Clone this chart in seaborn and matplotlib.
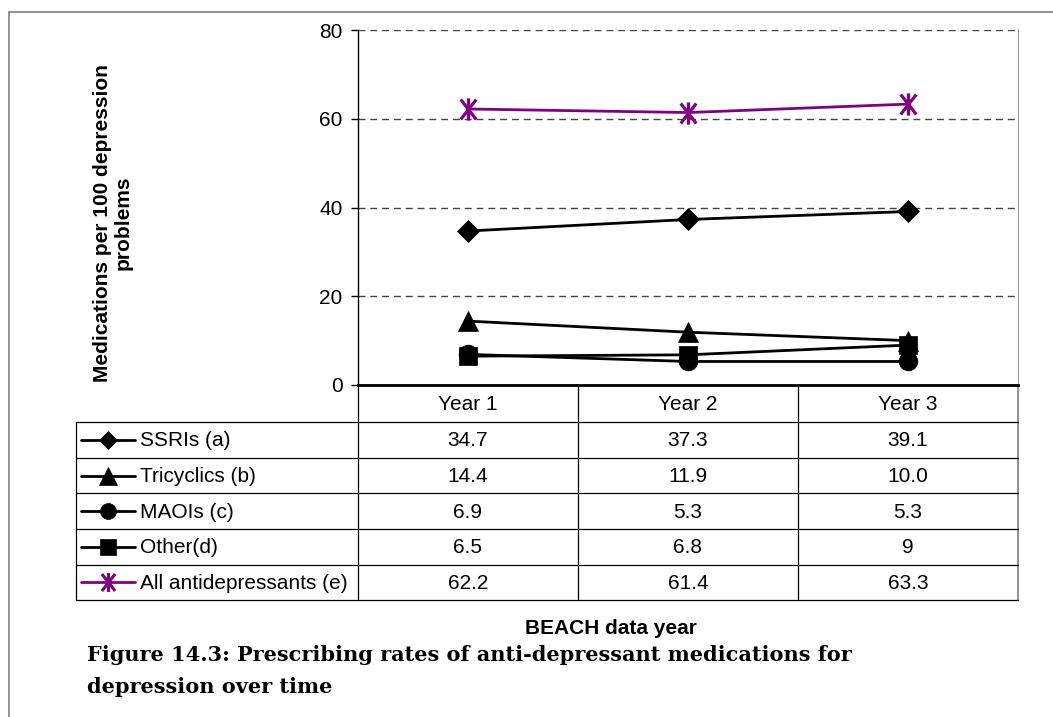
import numpy as np
import pandas as pd
import matplotlib
matplotlib.use("Agg")
import matplotlib.pyplot as plt
from matplotlib.lines import Line2D
from matplotlib.path import Path
import seaborn as sns

# data
years = ["Year 1", "Year 2", "Year 3"]
series_names = ["SSRIs (a)", "Tricyclics (b)", "MAOIs (c)", "Other(d)", "All antidepressants (e)"]
ssris = [34.7, 37.3, 39.1]
tricyclics = [14.4, 11.9, 10.0]
maois = [6.9, 5.3, 5.3]
other = [6.5, 6.8, 9]
all_ad = [62.2, 61.4, 63.3]
table_text = [["34.7", "37.3", "39.1"],
              ["14.4", "11.9", "10.0"],
              ["6.9", "5.3", "5.3"],
              ["6.5", "6.8", "9"],
              ["62.2", "61.4", "63.3"]]
yticks = [0, 20, 40, 60, 80]

values = [ssris, tricyclics, maois, other, all_ad]
df = pd.DataFrame({
    "year": years * len(series_names),
    "series": np.repeat(series_names, len(years)),
    "value": np.concatenate(values),
})

# excel-style star: vertical bar plus an X
star = Path([(0, -1), (0, 1), (-0.7, -0.9), (0.7, 0.9), (-0.7, 0.9), (0.7, -0.9)],
            [Path.MOVETO, Path.LINETO, Path.MOVETO, Path.LINETO, Path.MOVETO, Path.LINETO])

# styles per series
styles = {
    "SSRIs (a)": dict(marker="D", ms=11, color="black"),
    "Tricyclics (b)": dict(marker="^", ms=14.5, color="black"),
    "MAOIs (c)": dict(marker="o", ms=13.5, color="black"),
    "Other(d)": dict(marker="s", ms=13.5, color="black"),
    "All antidepressants (e)": dict(marker=star, ms=16, color="#800080"),
}

sns.set_style("white")
plt.rcParams["font.family"] = ["Liberation Sans", "DejaVu Sans"]
plt.rcParams["text.color"] = "black"
plt.rcParams["ytick.color"] = "black"
plt.rcParams["xtick.color"] = "black"

W, H = 1053, 717
fig = plt.figure(figsize=(W / 100, H / 100), dpi=100)

# main plot area (pixel layout from the reference)
px_l, px_r, px_t, px_b = 358, 1018, 30, 385
ax = fig.add_axes([px_l / W, 1 - px_b / H, (px_r - px_l) / W, (px_b - px_t) / H])

for name in series_names:
    st = styles[name]
    sub = df[df["series"] == name]
    sns.lineplot(data=sub, x="year", y="value", ax=ax, color=st["color"],
                 marker=st["marker"], ms=st["ms"], mec=st["color"], mfc=st["color"],
                 mew=2.3 if name.startswith("All") else 0.5, lw=2, legend=False, zorder=3)

ax.set_xlim(-0.5, 2.5)
ax.set_ylim(0, 80)
ax.set_yticks(yticks)
ax.set_xticks([])
ax.set_xlabel("")
ax.set_ylabel("")
ax.tick_params(axis="y", labelsize=15, length=5, width=1, pad=6, left=True,
               color="black", labelcolor="black")
ax.grid(axis="y", linestyle=(0, (5, 3.5)), color="#444444", lw=1)
for s in ["top", "right"]:
    ax.spines[s].set_visible(False)
ax.spines["left"].set_color("black")
ax.spines["left"].set_linewidth(1)
ax.spines["bottom"].set_color("black")
ax.spines["bottom"].set_linewidth(2)
ax.spines["bottom"].set_zorder(5)

# overlay in pixel coordinates for table, frame and captions
ov = fig.add_axes([0, 0, 1, 1], zorder=-1)
ov.set_xlim(0, W)
ov.set_ylim(H, 0)
ov.axis("off")
ov.patch.set_alpha(0)

# outer frame
ov.plot([9, 9], [12, H], color="#808080", lw=1.2)
ov.plot([9, W], [12, 12], color="#808080", lw=1.2)

# right border of plot + table
ov.plot([px_r, px_r], [px_t, 600], color="#808080", lw=1.2)

col_edges = [358, 578, 798, 1018]
col_centers = [468, 688, 908]
row_edges = [421.7, 457.7, 493.3, 529, 564.7, 600]

# table grid
for x in col_edges[:-1]:
    ov.plot([x, x], [px_b, 600], color="black", lw=0.9)
ov.plot([76, 76], [row_edges[0], 600], color="black", lw=0.9)
for y in row_edges:
    ov.plot([76, 1018], [y, y], color="black", lw=0.9)

# header
for xc, lab in zip(col_centers, years):
    ov.text(xc, (px_b + row_edges[0]) / 2 + 1, lab, ha="center", va="center", fontsize=15)

# rows with legend keys
for i, name in enumerate(series_names):
    yc = (row_edges[i] + row_edges[i + 1]) / 2
    st = styles[name]
    ov.add_line(Line2D([81, 135], [yc, yc], color=st["color"], lw=2))
    ov.add_line(Line2D([108], [yc], marker=st["marker"], ms=st["ms"] * 0.85, color=st["color"],
                       mec=st["color"], mew=2.2 if name.startswith("All") else 0.5))
    ov.text(140, yc + 1, name, ha="left", va="center", fontsize=15)
    for xc, t in zip(col_centers, table_text[i]):
        ov.text(xc, yc + 1, t, ha="center", va="center", fontsize=15)

# axis labels
ov.text(113, 223, "Medications per 100 depression\nproblems", rotation=90, ha="center", va="center",
        fontsize=15, fontweight="bold", multialignment="center", linespacing=1.1)
ov.text(611, 628, "BEACH data year", ha="center", va="center", fontsize=15, fontweight="bold")

# figure caption
ov.text(87, 661, "Figure 14.3: Prescribing rates of anti-depressant medications for", ha="left",
        va="baseline", fontsize=15, fontweight="bold", family="DejaVu Serif")
ov.text(87, 693, "depression over time", ha="left", va="baseline", fontsize=15,
        fontweight="bold", family="DejaVu Serif")

fig.savefig("out.png", dpi=100)
